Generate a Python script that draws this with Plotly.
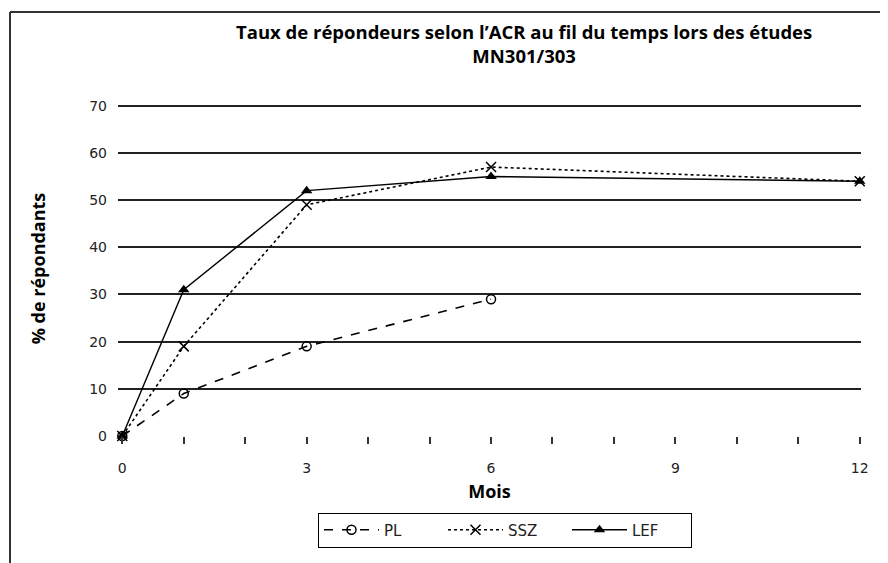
import plotly.graph_objects as go

months = [0, 1, 3, 6, 12]
pl_months = [0, 1, 3, 6]
pl = [0, 9, 19, 29]
ssz = [0, 19, 49, 57, 54]
lef = [0, 31, 52, 55, 54]

x_ticks = [0, 3, 6, 9, 12]
y_ticks = [0, 10, 20, 30, 40, 50, 60, 70]

title_text = "Taux de répondeurs selon l’ACR au fil du temps lors des études<br>MN301/303"
x_title = "Mois"
y_title = "% de répondants"

OFF = 8  # default page body margin
W, H = 880, 555
L, R, T, B = 110, 27, 93, 127
pw, ph = W - L - R, H - T - B

def px(sx):
    return (sx - OFF - L) / pw

def py(sy):
    return (H - B - (sy - OFF)) / ph

tick_font = dict(family="DejaVu Sans", size=14, color="#222")
bold_font = "Open Sans"

fig = go.Figure()
fig.add_trace(go.Scatter(
    x=pl_months, y=pl, name="PL", mode="lines+markers",
    line=dict(color="black", width=1.6, dash="dash"),
    marker=dict(symbol="circle-open", size=9, color="black", line=dict(width=1.5)),
    cliponaxis=False,
))
fig.add_trace(go.Scatter(
    x=months, y=ssz, name="SSZ", mode="lines+markers",
    line=dict(color="black", width=1.6, dash="dot"),
    marker=dict(symbol="x-thin-open", size=10, color="black", line=dict(width=1.5, color="black")),
    cliponaxis=False,
))
fig.add_trace(go.Scatter(
    x=months, y=lef, name="LEF", mode="lines+markers",
    line=dict(color="black", width=1.4),
    marker=dict(symbol="triangle-up", size=10, color="black"),
    cliponaxis=False,
))

fig.update_layout(
    width=W, height=H,
    margin=dict(l=L, r=R, t=T, b=B, autoexpand=False),
    paper_bgcolor="white", plot_bgcolor="white",
    showlegend=True,
    legend=dict(orientation="h", x=px(505), xanchor="center", y=py(530), yanchor="middle",
                bordercolor="black", borderwidth=1, bgcolor="white",
                font=dict(family="DejaVu Sans", size=15, color="#222"),
                itemwidth=55, entrywidth=54, entrywidthmode="pixels", tracegroupgap=0),
    xaxis=dict(range=[-0.07, 12.02], tickvals=x_ticks, ticktext=[str(v) for v in x_ticks],
               automargin=False,
               showgrid=False, zeroline=False, showline=False,
               ticks="outside", ticklen=7, tickcolor="#333", tickwidth=1.5,
               ticklabelstandoff=12, tickfont=tick_font,
               minor=dict(dtick=1, tick0=0, ticks="outside", ticklen=7, tickcolor="#333", tickwidth=1.5),
               title=dict(text="<b>" + x_title + "</b>", standoff=10,
                          font=dict(family=bold_font, size=18, color="black"))),
    yaxis=dict(range=[0, 71], tickvals=y_ticks, ticktext=[str(v) for v in y_ticks],
               automargin=False,
               showgrid=True, gridcolor="#222", gridwidth=2, zeroline=False, showline=False,
               ticks="", ticklabelstandoff=10, tickfont=tick_font,
               title=dict(text="<b>" + y_title + "</b>", standoff=38,
                          font=dict(family=bold_font, size=18, color="black"))),
)

fig.add_annotation(text="<b>" + title_text + "</b>", xref="paper", yref="paper",
                   x=px(524), y=py(44), xanchor="center", yanchor="middle",
                   showarrow=False, align="center",
                   font=dict(family=bold_font, size=18.5, color="black"))

# outer chart frame (left and top edges)
fig.add_shape(type="line", xref="paper", yref="paper",
              x0=px(10), x1=px(10), y0=py(12), y1=py(563), line=dict(color="#333", width=2))
fig.add_shape(type="line", xref="paper", yref="paper",
              x0=px(10), x1=px(888), y0=py(12), y1=py(12), line=dict(color="#333", width=2))

fig.write_html("out.html")
